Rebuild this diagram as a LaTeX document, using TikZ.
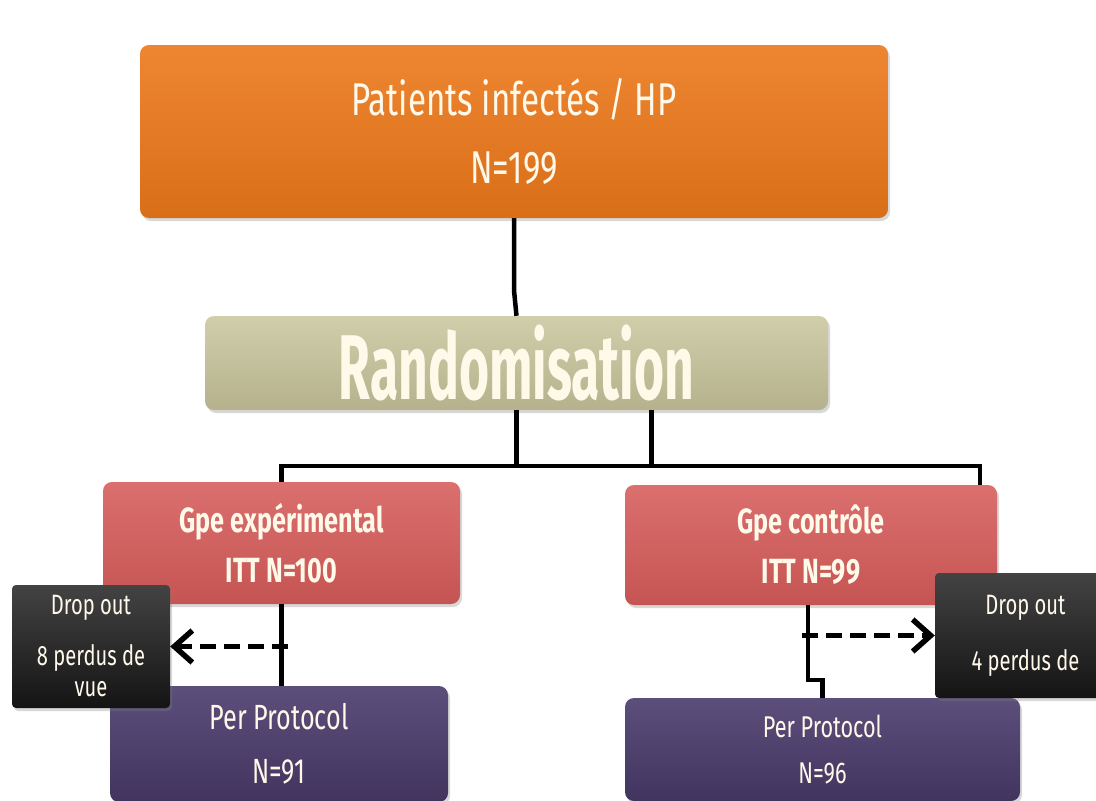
\documentclass[tikz,border=0pt]{standalone}
\usepackage{fontspec}
\setmainfont{Fira Sans}[FakeStretch=0.72]
\newfontfamily\randfont{Fira Sans}[FakeStretch=0.56]
\usepackage{xcolor}
\definecolor{hporange}{HTML}{EC781A}
\definecolor{hpkhaki}{HTML}{C9C59C}
\definecolor{hpred}{HTML}{D65C5A}
\definecolor{hppurple}{HTML}{4A3B6C}
\definecolor{hpblack}{HTML}{141414}
\definecolor{hptext}{HTML}{FFF9EA}
\usetikzlibrary{positioning,arrows.meta,shadows,calc}
\tikzset{
  fbox/.style  ={rectangle, rounded corners=9pt, align=center, inner sep=0pt,
                 text=hptext, drop shadow={shadow xshift=2pt, shadow yshift=-3pt, opacity=0.3}},
  patbox/.style={fbox, top color=hporange!90!white, bottom color=hporange!92!black,
                 font=\fontsize{46}{68}\selectfont},
  randbox/.style={fbox, top color=hpkhaki!85!white, bottom color=hpkhaki!90!black,
                 font=\randfont\bfseries\fontsize{92}{92}\selectfont},
  grpbox/.style={fbox, top color=hpred!88!white, bottom color=hpred!92!black,
                 font=\bfseries\fontsize{35}{50}\selectfont},
  ppbox/.style ={fbox, top color=hppurple!90!white, bottom color=hppurple!88!black},
  dropbox/.style={fbox, rounded corners=4pt, top color=hpblack!80!white, bottom color=hpblack,
                 font=\fontsize{28}{31}\selectfont},
  conn/.style  ={line width=4.5pt, black},
  darr/.style  ={-{Straight Barb[length=18pt, width=32pt, line width=5.5pt]}, line width=5.5pt,
                 dash pattern=on 16pt off 8pt},
}

\begin{document}
\begin{tikzpicture}[x=1pt, y=-1pt]
  \clip (0,0) rectangle (1096,801);
  \fill[white] (0,0) rectangle (1096,801);
  % boxes
  \node[patbox, minimum width=748pt, minimum height=173pt] (pat) at (514,131.5)
    {Patients infectés / HP\\N=199};
  \node[randbox, minimum width=623pt, minimum height=94pt] (rand) at (516.5,363) {Randomisation};
  \node[grpbox, minimum width=357pt, minimum height=122pt] (exp) at (281.5,543)
    {Gpe expérimental\\ITT N=100};
  \node[grpbox, minimum width=372pt, minimum height=120pt] (ctl) at (811,545)
    {Gpe contrôle\\ITT N=99};
  \node[ppbox, minimum width=338pt, minimum height=116pt, font=\fontsize{35}{54}\selectfont]
    (ppl) at (279,744) {Per Protocol\\N=91};
  \node[ppbox, minimum width=395pt, minimum height=103pt, font=\fontsize{30}{46}\selectfont]
    (ppr) at (822.5,749.5) {Per Protocol\\N=96};
  \node[dropbox, minimum width=158pt, minimum height=123pt] (dropl) at (91,646.5)
    {Drop out\\[20pt]8 perdus de\\vue};
  \node[dropbox, minimum width=181pt, minimum height=125pt] (dropr) at (1025.5,635.5)
    {Drop out\\[25pt]4 perdus de};
  % connectors
  \coordinate (bus) at (0,466);
  \coordinate (ctlin) at ([xshift=-17pt]ctl.north east);
  \draw[conn] (pat.south) -- ++(0,72) -- (rand.north);
  \draw[conn] (rand.south) -- (rand.south |- bus);
  \draw[conn] ([xshift=135pt]rand.south) -- ($(rand.south |- bus)+(135,0)$);
  \draw[conn] (exp.north) |- (bus -| ctlin) -- (ctlin);
  \draw[conn] (exp.south) -- (exp.south |- ppl.north);
  \draw[conn] ([xshift=-3pt]ctl.south) -- ++(0,75) -| (ppr.north);
  \draw[darr] ($(exp.south |- dropl.east)+(6,0)$) -- (dropl.east);
  \draw[darr] ($(ctl.south |- dropr.west)+(-9,0)$) -- (dropr.west);
\end{tikzpicture}
\end{document}
